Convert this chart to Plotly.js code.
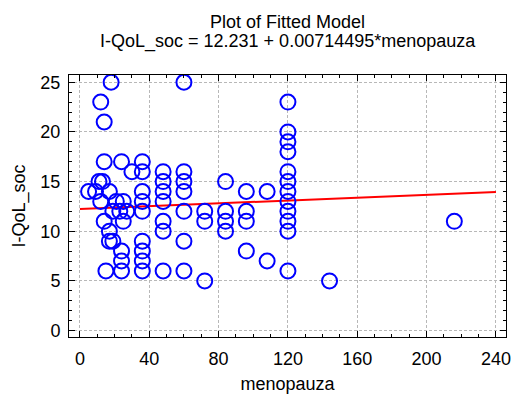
<!DOCTYPE html>
<html>
<head>
<meta charset="utf-8">
<script src="https://cdn.plot.ly/plotly-3.0.1.min.js"></script>
<style>html,body{margin:0;padding:0;background:#fff;}#chart{width:512px;height:394px;}</style>
</head>
<body>
<div id="chart"></div>
<script>
// Observed data (menopauza, I-QoL_soc)
var menopauza = [5, 9, 11, 13, 12, 14, 12, 14, 18, 17, 14, 17, 17, 19, 15, 21, 25, 23, 27, 19, 25, 24, 24, 24, 24,
  30, 36, 36, 36, 36, 36, 36, 36, 36, 36,
  48, 48, 48, 48, 48, 48, 48,
  60, 60, 60, 60, 60, 60, 60,
  72, 72, 72,
  84, 84, 84, 84,
  96, 96, 96, 96,
  108, 108,
  120, 120, 120, 120, 120, 120, 120, 120, 120, 120, 120, 120,
  144, 216];
var iqolSoc = [14, 14, 15, 15, 13, 17, 23, 21, 25, 14, 11, 10, 9, 9, 6, 13, 13, 12, 12, 12, 11, 8, 7, 6, 17,
  16, 17, 16, 14, 13, 12, 9, 8, 7, 6,
  16, 15, 14, 13, 11, 10, 6,
  25, 16, 15, 14, 12, 9, 6,
  12, 11, 5,
  15, 12, 11, 10,
  14, 12, 11, 8,
  14, 7,
  23, 20, 19, 18, 16, 15, 14, 13, 12, 11, 10, 6,
  5, 11];
// Fitted model endpoints: 12.231 + 0.00714495*x at x = 0 and 240
var fitX = [0, 240];
var fitY = [12.231, 13.946];
var xTicks = [0, 40, 80, 120, 160, 200, 240];
var yTicks = [0, 5, 10, 15, 20, 25];
var titleLine1 = 'Plot of Fitted Model';
var titleLine2 = 'I-QoL_soc = 12.231 + 0.00714495*menopauza';

var font = 'Liberation Sans, Arial, sans-serif';
var traces = [
  {x: fitX, y: fitY, mode: 'lines', type: 'scatter', line: {color: '#ff0000', width: 2}, hoverinfo: 'skip'},
  {x: menopauza, y: iqolSoc, mode: 'markers', type: 'scatter',
   marker: {symbol: 'circle-open', size: 15, color: '#0000ff', line: {width: 2, color: '#0000ff'}}}
];
var axisCommon = {
  showline: true, linecolor: '#000', linewidth: 1, mirror: 'ticks',
  ticks: 'inside', ticklen: 6, tickwidth: 1, tickcolor: '#000',
  showgrid: true, gridcolor: '#b8b8b8', gridwidth: 1, griddash: '3px,2px',
  zeroline: false, tickfont: {family: font, size: 18, color: '#000'}
};
var layout = {
  width: 512, height: 394,
  margin: {l: 69, r: 6, t: 75, b: 57},
  paper_bgcolor: '#fff', plot_bgcolor: '#fff',
  showlegend: false,
  font: {family: font, color: '#000'},
  xaxis: Object.assign({}, axisCommon, {
    range: [-6.3, 245.8], tickmode: 'array', tickvals: xTicks, ticktext: xTicks.map(String),
    ticklabelstandoff: 5,
    minor: {dtick: 10, ticks: 'inside', ticklen: 3, tickcolor: '#000', showgrid: false},
    title: {text: 'menopauza', font: {family: font, size: 18}, standoff: 11}
  }),
  yaxis: Object.assign({}, axisCommon, {
    range: [-0.65, 25.73], tickmode: 'array', tickvals: yTicks, ticktext: yTicks.map(String),
    ticklabelstandoff: 4,
    minor: {dtick: 1, ticks: 'inside', ticklen: 3, tickcolor: '#000', showgrid: false},
    title: {text: 'I-QoL_soc', font: {family: font, size: 18}, standoff: 10}
  }),
  annotations: [
    {text: titleLine1, xref: 'paper', yref: 'paper', x: 0.5, y: 1, yshift: 53, showarrow: false,
     xanchor: 'center', yanchor: 'middle', font: {family: font, size: 18}},
    {text: titleLine2, xref: 'paper', yref: 'paper', x: 0.5, y: 1, yshift: 34, showarrow: false,
     xanchor: 'center', yanchor: 'middle', font: {family: font, size: 18}}
  ]
};
Plotly.newPlot('chart', traces, layout, {displayModeBar: false, staticPlot: true});
</script>
</body>
</html>
